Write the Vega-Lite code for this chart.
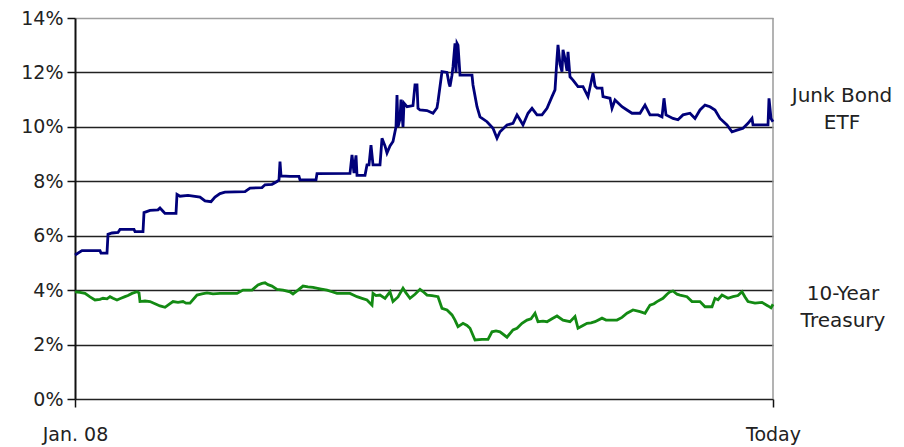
{
  "$schema": "https://vega.github.io/schema/vega-lite/v6.json",
  "width": 698,
  "height": 381,
  "autosize": {"type": "none"},
  "padding": {"left": 75, "top": 18, "right": 131, "bottom": 48},
  "background": "white",
  "config": {"view": {"stroke": null}, "font": "DejaVu Sans"},
  "datasets": {
    "junk": [
      {"t":0,"v":5.29},{"t":7,"v":5.45},{"t":25,"v":5.45},{"t":26,"v":5.36},{"t":32,"v":5.36},{"t":33,"v":6.05},{"t":37,"v":6.1},{"t":43,"v":6.12},{"t":45,"v":6.23},{"t":59,"v":6.23},{"t":60,"v":6.15},{"t":68,"v":6.15},{"t":69,"v":6.85},{"t":75,"v":6.93},{"t":83,"v":6.95},{"t":85,"v":7.02},{"t":88,"v":6.9},{"t":90,"v":6.82},{"t":101,"v":6.82},{"t":102,"v":7.52},{"t":105,"v":7.45},{"t":113,"v":7.48},{"t":125,"v":7.42},{"t":130,"v":7.28},{"t":136,"v":7.25},{"t":140,"v":7.42},{"t":145,"v":7.55},{"t":150,"v":7.6},{"t":170,"v":7.62},{"t":175,"v":7.75},{"t":187,"v":7.77},{"t":190,"v":7.87},{"t":197,"v":7.89},{"t":202,"v":7.99},{"t":204,"v":8.05},{"t":205,"v":8.72},{"t":206,"v":8.2},{"t":215,"v":8.18},{"t":224,"v":8.18},{"t":225,"v":8.05},{"t":241,"v":8.05},{"t":242,"v":8.28},{"t":275,"v":8.29},{"t":277,"v":8.97},{"t":279,"v":8.3},{"t":281,"v":8.95},{"t":282,"v":8.22},{"t":290,"v":8.22},{"t":292,"v":8.6},{"t":294,"v":8.6},{"t":296,"v":9.33},{"t":298,"v":8.6},{"t":305,"v":8.6},{"t":307,"v":9.58},{"t":310,"v":9.3},{"t":312,"v":9.04},{"t":315,"v":9.3},{"t":318,"v":9.46},{"t":321,"v":10.0},{"t":322,"v":11.17},{"t":323,"v":10.0},{"t":325,"v":10.3},{"t":326,"v":11.0},{"t":328,"v":10.0},{"t":329,"v":10.87},{"t":332,"v":10.74},{"t":338,"v":10.78},{"t":340,"v":11.54},{"t":342,"v":11.54},{"t":343,"v":10.68},{"t":345,"v":10.62},{"t":352,"v":10.6},{"t":358,"v":10.5},{"t":362,"v":10.7},{"t":363,"v":10.93},{"t":367,"v":12.03},{"t":372,"v":12.0},{"t":374,"v":11.6},{"t":375,"v":11.48},{"t":377,"v":11.9},{"t":378,"v":12.21},{"t":380,"v":13.07},{"t":381,"v":12.0},{"t":382,"v":13.07},{"t":383,"v":13.0},{"t":385,"v":11.9},{"t":392,"v":11.9},{"t":397,"v":11.9},{"t":398,"v":11.54},{"t":402,"v":10.74},{"t":405,"v":10.37},{"t":412,"v":10.19},{"t":418,"v":9.95},{"t":422,"v":9.58},{"t":425,"v":9.82},{"t":432,"v":10.07},{"t":438,"v":10.13},{"t":442,"v":10.44},{"t":445,"v":10.26},{"t":448,"v":10.07},{"t":453,"v":10.5},{"t":457,"v":10.68},{"t":462,"v":10.44},{"t":467,"v":10.44},{"t":472,"v":10.68},{"t":477,"v":11.11},{"t":480,"v":11.36},{"t":482,"v":12.52},{"t":483,"v":13.01},{"t":485,"v":12.3},{"t":487,"v":12.03},{"t":488,"v":12.83},{"t":490,"v":12.5},{"t":492,"v":12.06},{"t":493,"v":12.76},{"t":495,"v":11.84},{"t":498,"v":11.72},{"t":503,"v":11.48},{"t":508,"v":11.48},{"t":513,"v":11.11},{"t":518,"v":11.97},{"t":520,"v":11.5},{"t":522,"v":11.42},{"t":527,"v":11.42},{"t":528,"v":11.11},{"t":535,"v":11.05},{"t":537,"v":10.68},{"t":540,"v":10.99},{"t":547,"v":10.74},{"t":552,"v":10.62},{"t":557,"v":10.5},{"t":565,"v":10.5},{"t":570,"v":10.8},{"t":575,"v":10.44},{"t":583,"v":10.44},{"t":587,"v":10.37},{"t":589,"v":11.05},{"t":591,"v":10.44},{"t":598,"v":10.31},{"t":603,"v":10.26},{"t":608,"v":10.44},{"t":615,"v":10.5},{"t":620,"v":10.31},{"t":625,"v":10.62},{"t":630,"v":10.8},{"t":635,"v":10.74},{"t":640,"v":10.62},{"t":645,"v":10.31},{"t":652,"v":10.07},{"t":657,"v":9.82},{"t":662,"v":9.88},{"t":668,"v":9.95},{"t":673,"v":10.13},{"t":677,"v":10.31},{"t":678,"v":10.07},{"t":688,"v":10.07},{"t":693,"v":10.07},{"t":694,"v":11.05},{"t":696,"v":10.31},{"t":698,"v":10.19}
    ],
    "treasury": [
      {"t":0,"v":3.94},{"t":5,"v":3.92},{"t":10,"v":3.88},{"t":15,"v":3.75},{"t":20,"v":3.64},{"t":25,"v":3.66},{"t":28,"v":3.7},{"t":32,"v":3.68},{"t":35,"v":3.76},{"t":38,"v":3.7},{"t":42,"v":3.64},{"t":46,"v":3.7},{"t":50,"v":3.76},{"t":53,"v":3.8},{"t":57,"v":3.88},{"t":62,"v":3.94},{"t":64,"v":3.9},{"t":65,"v":3.58},{"t":70,"v":3.6},{"t":75,"v":3.58},{"t":80,"v":3.5},{"t":85,"v":3.42},{"t":90,"v":3.37},{"t":94,"v":3.48},{"t":98,"v":3.58},{"t":103,"v":3.55},{"t":108,"v":3.58},{"t":111,"v":3.52},{"t":115,"v":3.52},{"t":122,"v":3.82},{"t":127,"v":3.86},{"t":132,"v":3.9},{"t":138,"v":3.86},{"t":145,"v":3.88},{"t":153,"v":3.88},{"t":162,"v":3.88},{"t":168,"v":4.0},{"t":177,"v":4.0},{"t":183,"v":4.19},{"t":187,"v":4.25},{"t":190,"v":4.27},{"t":193,"v":4.2},{"t":197,"v":4.15},{"t":202,"v":4.03},{"t":208,"v":4.0},{"t":215,"v":3.94},{"t":218,"v":3.86},{"t":223,"v":4.0},{"t":228,"v":4.15},{"t":233,"v":4.12},{"t":238,"v":4.1},{"t":245,"v":4.05},{"t":252,"v":4.0},{"t":257,"v":3.94},{"t":262,"v":3.88},{"t":275,"v":3.88},{"t":282,"v":3.76},{"t":287,"v":3.7},{"t":292,"v":3.64},{"t":297,"v":3.45},{"t":298,"v":3.88},{"t":301,"v":3.8},{"t":305,"v":3.82},{"t":310,"v":3.7},{"t":315,"v":3.94},{"t":318,"v":3.58},{"t":323,"v":3.75},{"t":328,"v":4.07},{"t":331,"v":3.9},{"t":335,"v":3.7},{"t":340,"v":3.85},{"t":345,"v":4.03},{"t":348,"v":3.95},{"t":352,"v":3.82},{"t":357,"v":3.8},{"t":363,"v":3.76},{"t":367,"v":3.33},{"t":372,"v":3.27},{"t":377,"v":3.09},{"t":380,"v":2.9},{"t":383,"v":2.66},{"t":388,"v":2.78},{"t":392,"v":2.7},{"t":395,"v":2.6},{"t":400,"v":2.17},{"t":407,"v":2.19},{"t":413,"v":2.19},{"t":417,"v":2.47},{"t":421,"v":2.5},{"t":425,"v":2.47},{"t":432,"v":2.27},{"t":438,"v":2.54},{"t":442,"v":2.6},{"t":447,"v":2.78},{"t":452,"v":2.9},{"t":456,"v":2.95},{"t":460,"v":3.15},{"t":463,"v":2.84},{"t":468,"v":2.86},{"t":472,"v":2.84},{"t":477,"v":2.95},{"t":482,"v":3.05},{"t":488,"v":2.9},{"t":495,"v":2.84},{"t":500,"v":3.03},{"t":503,"v":2.6},{"t":508,"v":2.7},{"t":512,"v":2.78},{"t":516,"v":2.8},{"t":520,"v":2.84},{"t":527,"v":2.97},{"t":531,"v":2.9},{"t":535,"v":2.9},{"t":542,"v":2.9},{"t":547,"v":3.0},{"t":552,"v":3.15},{"t":558,"v":3.27},{"t":565,"v":3.21},{"t":570,"v":3.15},{"t":575,"v":3.45},{"t":579,"v":3.5},{"t":582,"v":3.58},{"t":588,"v":3.7},{"t":592,"v":3.85},{"t":595,"v":3.94},{"t":598,"v":3.97},{"t":602,"v":3.85},{"t":605,"v":3.82},{"t":612,"v":3.76},{"t":617,"v":3.58},{"t":625,"v":3.58},{"t":630,"v":3.39},{"t":637,"v":3.39},{"t":640,"v":3.7},{"t":643,"v":3.65},{"t":647,"v":3.82},{"t":653,"v":3.7},{"t":658,"v":3.76},{"t":663,"v":3.8},{"t":667,"v":3.94},{"t":670,"v":3.75},{"t":673,"v":3.58},{"t":680,"v":3.52},{"t":687,"v":3.55},{"t":693,"v":3.42},{"t":696,"v":3.35},{"t":698,"v":3.48}
    ]
  },
  "layer": [
    {
      "data": {"values": [{"t": 698}]},
      "mark": {"type": "rule", "color": "#9a9a9a", "strokeWidth": 1.5},
      "encoding": {
        "x": {"field": "t", "type": "quantitative", "scale": {"domain": [0, 698], "nice": false, "zero": false},
          "axis": {"values": [0, 698], "labelExpr": "datum.value == 0 ? 'Jan. 08' : 'Today'", "title": null, "grid": false,
            "domain": false, "tickSize": 8, "tickColor": "#111", "tickWidth": 1.5, "labelFontSize": 19, "labelColor": "#222",
            "labelPadding": 18, "labelOverlap": false, "labelBound": false, "labelFlush": false}},
        "y": {"datum": 0, "type": "quantitative", "scale": {"domain": [0, 14], "nice": false},
          "axis": {"values": [0, 2, 4, 6, 8, 10, 12, 14], "labelExpr": "datum.value + '%'", "title": null,
            "grid": true, "gridColor": {"condition": {"test": "datum.value == 14", "value": "#a0a0a0"}, "value": "#222"}, "gridWidth": 1.5, "gridOpacity": 1,
            "domain": true, "domainColor": "#111", "domainWidth": 2, "tickSize": 8, "tickColor": "#111", "tickWidth": 1.5,
            "labelFontSize": 19, "labelColor": "#222", "labelPadding": 4}},
        "y2": {"datum": 14}
      }
    },
    {
      "data": {"name": "junk"},
      "mark": {"type": "line", "color": "#00007a", "strokeWidth": 2.8},
      "encoding": {
        "x": {"field": "t", "type": "quantitative"},
        "y": {"field": "v", "type": "quantitative"}
      }
    },
    {
      "data": {"name": "treasury"},
      "mark": {"type": "line", "color": "#138a13", "strokeWidth": 2.8},
      "encoding": {
        "x": {"field": "t", "type": "quantitative"},
        "y": {"field": "v", "type": "quantitative"}
      }
    },
    {
      "data": {"values": [{"label": ["Junk Bond", "ETF"], "t": 767, "v": 11.12}, {"label": ["10-Year", "Treasury"], "t": 768, "v": 3.84}]},
      "mark": {"type": "text", "fontSize": 20, "lineHeight": 27, "color": "#222", "align": "center", "baseline": "middle"},
      "encoding": {
        "x": {"field": "t", "type": "quantitative"},
        "y": {"field": "v", "type": "quantitative"},
        "text": {"field": "label"}
      }
    }
  ]
}
